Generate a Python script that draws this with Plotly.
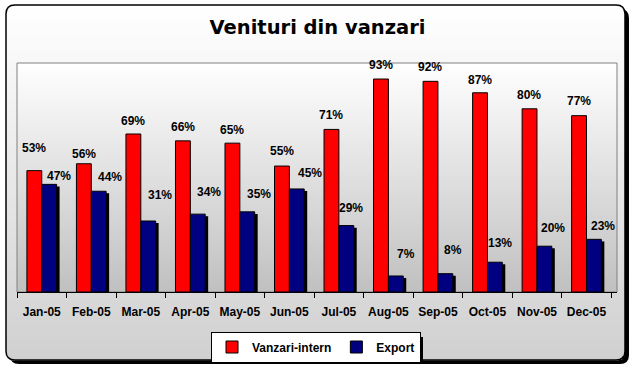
import math
import plotly.graph_objects as go

# ---------------- data ----------------
months = ["Jan-05", "Feb-05", "Mar-05", "Apr-05", "May-05", "Jun-05",
          "Jul-05", "Aug-05", "Sep-05", "Oct-05", "Nov-05", "Dec-05"]
vanzari_intern = [53, 56, 69, 66, 65, 55, 71, 93, 92, 87, 80, 77]
export = [47, 44, 31, 34, 35, 45, 29, 7, 8, 13, 20, 23]
series_names = ["Vanzari-intern", "Export"]
title_text = "Venituri din vanzari"

# ---------------- style ----------------
W, H = 635, 372
RED, NAVY = "#FF0000", "#000080"
# label offsets (pixels) as placed in the original chart
red_label_dy = [23, 10, 13, 14, 13, 15, 14, 14, 14, 13, 14, 15]
blue_label_dx = [10, 11, 12, 11, 12, 13, 5, 10, 8, 5, 9, 9]
blue_label_dy = [8, 14, 26, 22, 18, 16, 18, 22, 24, 19, 18, 13]

PX0, PX1, PY0, PY1 = 17, 617, 63, 292   # plot area in pixels


def fx(x):
    return x / W


def fy(y):
    return 1 - y / H


def rr_path(x0, y0, x1, y1, r):
    pts = [
        ("M", (x0 + r, y0)), ("L", (x1 - r, y0)), ("Q", (x1, y0), (x1, y0 + r)),
        ("L", (x1, y1 - r)), ("Q", (x1, y1), (x1 - r, y1)),
        ("L", (x0 + r, y1)), ("Q", (x0, y1), (x0, y1 - r)),
        ("L", (x0, y0 + r)), ("Q", (x0, y0), (x0 + r, y0)),
    ]
    s = ""
    for p in pts:
        coords = " ".join(f"{fx(a):.5f},{fy(b):.5f}" for a, b in p[1:])
        s += f"{p[0]}{coords} "
    return s + "Z"


def gray(v):
    v = int(round(v))
    return f"rgb({v},{v},{v})"


shapes = []
# chart area shadow
CX0, CY0, CX1, CY1, R = 6, 5, 625, 360, 9
shapes.append(dict(type="path", path=rr_path(CX0 + 4, CY0 + 4, CX1 + 4, CY1 + 4, R),
                   xref="paper", yref="paper", fillcolor="black",
                   line=dict(width=0), layer="below"))
# chart area gradient strips (rounded corners approximated)
step = 3
y = CY0
while y < CY1:
    y2 = min(y + step, CY1)
    ym = (y + y2) / 2
    inset = 0
    if ym < CY0 + R:
        d = CY0 + R - ym
        inset = R - math.sqrt(max(R * R - d * d, 0))
    elif ym > CY1 - R:
        d = ym - (CY1 - R)
        inset = R - math.sqrt(max(R * R - d * d, 0))
    t = (ym - CY0) / (CY1 - CY0)
    shapes.append(dict(type="rect", xref="paper", yref="paper",
                       x0=fx(CX0 + inset), x1=fx(CX1 - inset),
                       y0=fy(y2 + 0.5), y1=fy(y),
                       fillcolor=gray(255 - 47 * t), line=dict(width=0),
                       layer="below"))
    y = y2
# chart border
shapes.append(dict(type="path", path=rr_path(CX0, CY0, CX1, CY1, R),
                   xref="paper", yref="paper", line=dict(color="black", width=1.5),
                   layer="below"))
# plot area gradient
y = PY0
while y < PY1:
    y2 = min(y + step, PY1)
    t = ((y + y2) / 2 - PY0) / (PY1 - PY0)
    shapes.append(dict(type="rect", xref="paper", yref="paper",
                       x0=fx(PX0), x1=fx(PX1), y0=fy(y2 + 0.5), y1=fy(y),
                       fillcolor=gray(255 - 63 * t), line=dict(width=0),
                       layer="below"))
    y = y2
shapes.append(dict(type="rect", xref="paper", yref="paper",
                   x0=fx(PX0), x1=fx(PX1), y0=fy(PY1), y1=fy(PY0),
                   line=dict(color="#808080", width=1), layer="below"))
# legend shadow
shapes.append(dict(type="rect", xref="paper", yref="paper",
                   x0=fx(215), x1=fx(423), y0=fy(362), y1=fy(337),
                   fillcolor="black", line=dict(width=0), layer="below"))

fig = go.Figure()
# blue bar shadows
fig.add_trace(go.Bar(x=months, y=export, base=-0.9, offset=0.06, width=0.3,
                     marker=dict(color="black", line=dict(width=0)),
                     showlegend=False, hoverinfo="skip"))
fig.add_trace(go.Bar(x=months, y=vanzari_intern, name=series_names[0],
                     offset=-0.3, width=0.3,
                     marker=dict(color=RED, line=dict(color="black", width=1))))
fig.add_trace(go.Bar(x=months, y=export, name=series_names[1],
                     offset=0.0, width=0.3,
                     marker=dict(color=NAVY, line=dict(color="black", width=1))))

label_font = dict(family="Liberation Sans", size=12, color="black", weight="bold")
annotations = []
for i, m in enumerate(months):
    annotations.append(dict(x=m, y=vanzari_intern[i], xref="x", yref="y",
                            text=f"{vanzari_intern[i]}%", showarrow=False,
                            xshift=-7.5, yshift=red_label_dy[i], yanchor="middle",
                            font=label_font))
    annotations.append(dict(x=m, y=export[i], xref="x", yref="y",
                            text=f"{export[i]}%", showarrow=False,
                            xshift=7.5 + blue_label_dx[i], yshift=blue_label_dy[i],
                            yanchor="middle", font=label_font))

fig.update_layout(
    width=W, height=H,
    margin=dict(l=0, r=0, t=0, b=0, autoexpand=False),
    paper_bgcolor="white", plot_bgcolor="rgba(0,0,0,0)",
    barmode="overlay",
    title=dict(text=title_text, x=0.5, xanchor="center", y=fy(27), yanchor="middle",
               font=dict(family="DejaVu Sans", size=19.5, color="black", weight="bold")),
    xaxis=dict(domain=[fx(PX0), fx(PX1)], type="category", tickangle=0,
               tickson="boundaries", ticks="outside", ticklen=5, tickcolor="black",
               showline=True, linecolor="black", linewidth=1, showgrid=False,
               zeroline=False, ticklabelstandoff=9,
               tickfont=dict(family="Liberation Sans", size=12, color="black",
                             weight="bold")),
    yaxis=dict(domain=[fy(PY1), fy(PY0)], range=[0, 100], visible=False,
               showgrid=False, zeroline=False),
    legend=dict(orientation="h", x=fx(316), xanchor="center", y=fy(347),
                yanchor="middle", bgcolor="white", bordercolor="black",
                borderwidth=1, itemwidth=30,
                font=dict(family="Liberation Sans", size=12, color="black",
                          weight="bold")),
    shapes=shapes,
    annotations=annotations,
    hovermode=False,
)

fig.write_html("out.html", config={"displayModeBar": False},
               post_script="document.body.style.margin='0';")
